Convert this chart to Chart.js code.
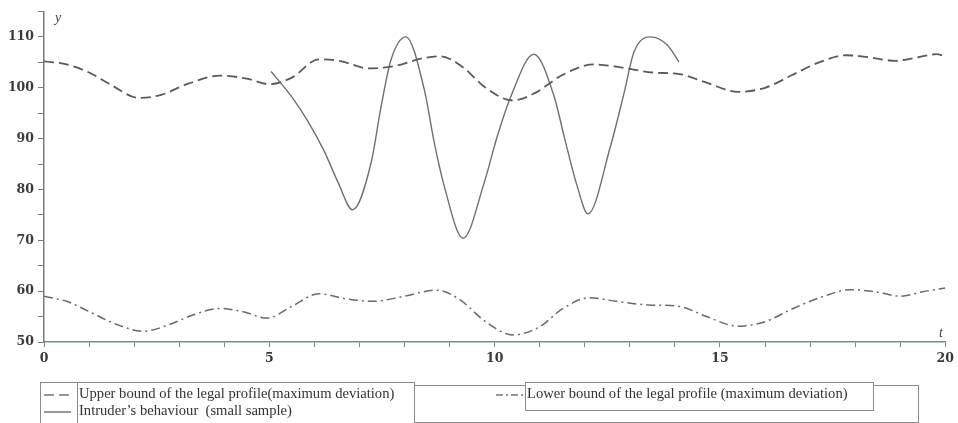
<!DOCTYPE html>
<html>
<head>
<meta charset="utf-8">
<script src="https://cdn.jsdelivr.net/npm/chart.js@4/dist/chart.umd.min.js"></script>
<style>
  html, body { margin: 0; padding: 0; background: #fff; }
  #wrap { position: relative; width: 958px; height: 423px; overflow: hidden; }
  canvas { position: absolute; left: 0; top: 0; }
  .box { position: absolute; border: 1px solid #8a8a8a; box-sizing: border-box; background: transparent; }
  .txt { position: absolute; font-family: "Liberation Serif", "DejaVu Serif", serif; font-size: 14.6px; color: #333; white-space: pre; line-height: 16px; }
  svg.smp { position: absolute; }
</style>
</head>
<body>
<div id="wrap">
  <canvas id="c" width="958" height="423"></canvas>
  <!-- legend -->
  <div class="box" style="left:40px; top:382px; width:375px; height:50px;"></div>
  <div class="box" style="left:77px; top:382px; width:338px; height:50px;"></div>
  <div class="box" style="left:414px; top:385px; width:505px; height:38px;"></div>
  <div class="box" style="left:525px; top:382px; width:349px; height:29px; background:#fff;"></div>
  <svg class="smp" style="left:44px; top:393px;" width="28" height="4"><line x1="0" y1="2" x2="27" y2="2" stroke="#777" stroke-width="1.5" stroke-dasharray="10,5"/></svg>
  <svg class="smp" style="left:44px; top:410px;" width="28" height="4"><line x1="0" y1="2" x2="27" y2="2" stroke="#777" stroke-width="1.5"/></svg>
  <svg class="smp" style="left:496px; top:393px;" width="28" height="4"><line x1="0" y1="2" x2="28" y2="2" stroke="#777" stroke-width="1.5" stroke-dasharray="7,3,2,3"/></svg>
  <div class="txt" id="legUpper" style="left:79px; top:385px;"></div>
  <div class="txt" id="legIntr" style="left:79px; top:402px;"></div>
  <div class="txt" id="legLower" style="left:527px; top:385px;"></div>
</div>
<script>
// ---- data ----
const seriesNames = [
  "Upper bound of the legal profile(maximum deviation)",
  "Intruder\u2019s behaviour  (small sample)",
  "Lower bound of the legal profile (maximum deviation)"
];

const upperT = [0, 0.5, 1, 1.5, 2.1, 2.6, 3.2, 3.9, 4.5, 5.0, 5.5, 6.1, 6.6, 7.2, 7.8, 8.4, 8.8, 9.3, 9.8, 10.4, 10.9, 11.5, 12.2, 12.8, 13.5, 14.1, 14.7, 15.4, 16.0, 16.6, 17.2, 17.8, 18.3, 18.9, 19.4, 19.8, 20];
const upperY = [105.2, 104.6, 103, 100.5, 98, 98.6, 100.8, 102.4, 101.8, 100.7, 102, 105.6, 105.2, 103.8, 104.3, 105.8, 106.2, 104, 100, 97.5, 99, 102.5, 104.6, 104, 103, 102.7, 101, 99.2, 100, 102.5, 105, 106.4, 106, 105.3, 106, 106.6, 106.2];

const lowerT = [0, 0.5, 1, 1.6, 2.2, 2.8, 3.3, 3.9, 4.4, 4.95, 5.5, 6.1, 6.7, 7.3, 8.0, 8.7, 9.2, 9.8, 10.4, 11.0, 11.5, 12.1, 12.7, 13.4, 14.1, 14.7, 15.4, 16.0, 16.6, 17.3, 17.9, 18.5, 19.0, 19.5, 20];
const lowerY = [59, 58, 56, 53.5, 52.1, 53.5, 55.3, 56.6, 56, 54.7, 57, 59.5, 58.5, 58, 59, 60.2, 58.5, 54, 51.4, 53, 56.5, 58.7, 58, 57.3, 57, 55, 53.1, 54, 56.5, 59, 60.3, 59.8, 59, 59.9, 60.6];

const intruderT = [5.04, 5.49, 5.85, 6.22, 6.52, 6.85, 7.26, 7.48, 7.70, 8.03, 8.44, 8.66, 8.88, 9.30, 9.77, 10.06, 10.36, 10.87, 11.32, 11.54, 11.83, 12.07, 12.57, 12.87, 13.09, 13.46, 13.83, 14.09];
const intruderY = [103.2, 98.3, 93.5, 87.5, 81.5, 76, 85.3, 96.3, 105.5, 110, 99.6, 89.2, 80.7, 70.4, 81.4, 90.5, 98.3, 106.6, 98.3, 90.5, 80.7, 75.2, 88.5, 98.9, 107.0, 110, 108.4, 105.1];

const xTickLabels = [0, 5, 10, 15, 20];
const yTickLabels = [50, 60, 70, 80, 90, 100, 110];

const toPts = (ts, ys) => ts.map((t, i) => ({ x: t, y: ys[i] }));

document.getElementById('legUpper').textContent = seriesNames[0];
document.getElementById('legIntr').textContent = seriesNames[1];
document.getElementById('legLower').textContent = seriesNames[2];

const tickFont = { family: '"DejaVu Serif", "Liberation Serif", serif', size: 12.5, weight: 'bold' };

const axisLetters = {
  id: 'axisLetters',
  afterDraw(chart) {
    const ctx = chart.ctx;
    ctx.save();
    ctx.fillStyle = '#444';
    ctx.font = 'italic 14px "Liberation Serif", serif';
    ctx.textBaseline = 'middle';
    ctx.fillText('y', 55, 18);
    ctx.fillText('t', 939, 333);
    ctx.restore();
  }
};

new Chart(document.getElementById('c'), {
  type: 'line',
  data: {
    datasets: [
      {
        label: seriesNames[0],
        data: toPts(upperT, upperY),
        borderColor: '#5a5a5a',
        borderWidth: 1.8,
        borderDash: [10, 5],
        pointRadius: 0,
        cubicInterpolationMode: 'monotone',
        fill: false
      },
      {
        label: seriesNames[1],
        data: toPts(intruderT, intruderY),
        borderColor: '#707070',
        borderWidth: 1.4,
        pointRadius: 0,
        cubicInterpolationMode: 'monotone',
        fill: false
      },
      {
        label: seriesNames[2],
        data: toPts(lowerT, lowerY),
        borderColor: '#6a6a6a',
        borderWidth: 1.5,
        borderDash: [9, 4, 2, 4],
        pointRadius: 0,
        cubicInterpolationMode: 'monotone',
        fill: false
      }
    ]
  },
  options: {
    responsive: false,
    animation: false,
    layout: { padding: { left: 0, right: 11, top: 9, bottom: 0 } },
    plugins: { legend: { display: false }, tooltip: { enabled: false } },
    scales: {
      x: {
        type: 'linear',
        min: 0, max: 20,
        afterFit(s) { s.height = 81; },
        border: { display: true, color: '#6f8f88', width: 1.5 },
        grid: { drawOnChartArea: false, drawTicks: true, tickLength: 5, tickColor: '#6f8f88', tickWidth: 1 },
        ticks: {
          stepSize: 1,
          autoSkip: false,
          maxRotation: 0,
          padding: 4,
          color: '#3a3a3a',
          font: tickFont,
          callback: (v) => xTickLabels.includes(v) ? String(v) : ''
        }
      },
      y: {
        type: 'linear',
        min: 50, max: 115,
        afterFit(s) { s.width = 44; },
        border: { display: true, color: '#7a7a7a', width: 1.5 },
        grid: { drawOnChartArea: false, drawTicks: true, tickLength: 6, tickColor: '#7a7a7a', tickWidth: 1 },
        ticks: {
          stepSize: 5,
          autoSkip: false,
          padding: 4,
          color: '#3a3a3a',
          font: tickFont,
          callback: (v) => yTickLabels.includes(v) ? String(v) : ''
        }
      }
    }
  },
  plugins: [axisLetters]
});
</script>
</body>
</html>
